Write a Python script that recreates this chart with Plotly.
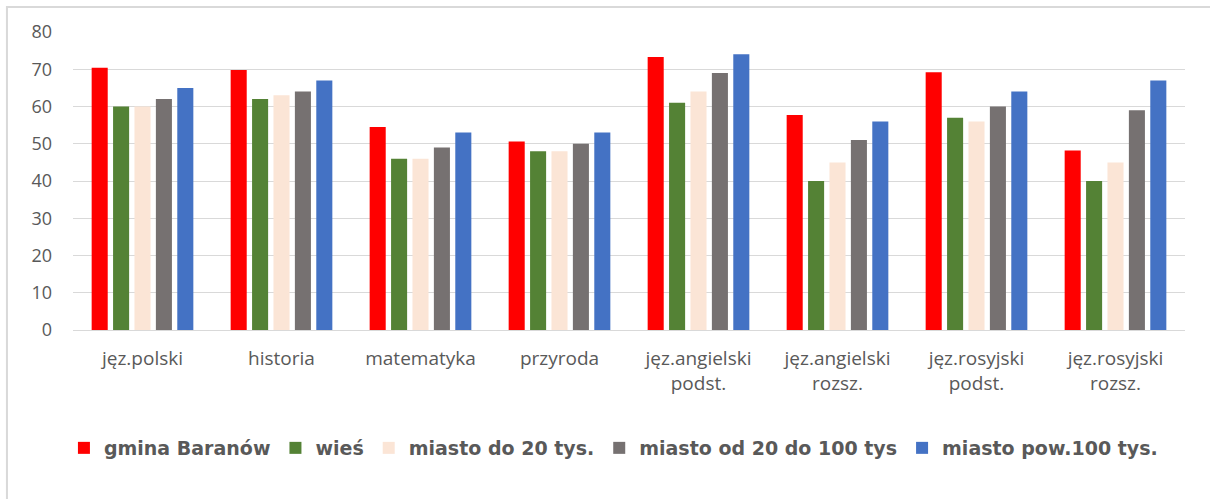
import plotly.graph_objects as go

# data
categories = ['jęz.polski', 'historia', 'matematyka', 'przyroda',
              'jęz.angielski<br>podst.', 'jęz.angielski<br>rozsz.',
              'jęz.rosyjski<br>podst.', 'jęz.rosyjski<br>rozsz.']

gmina_baranow = [70.4, 69.8, 54.5, 50.6, 73.3, 57.7, 69.2, 48.2]
wies = [60, 62, 46, 48, 61, 40, 57, 40]
miasto_do_20 = [60, 63, 46, 48, 64, 45, 56, 45]
miasto_20_100 = [62, 64, 49, 50, 69, 51, 60, 59]
miasto_pow_100 = [65, 67, 53, 53, 74, 56, 64, 67]

series = [
    ('gmina Baranów', gmina_baranow, '#FF0000'),
    ('wieś', wies, '#548235'),
    ('miasto do 20 tys.', miasto_do_20, '#FBE5D6'),
    ('miasto od 20 do 100 tys', miasto_20_100, '#767171'),
    ('miasto pow.100 tys.', miasto_pow_100, '#4472C4'),
]

fig = go.Figure()
for name, vals, col in series:
    fig.add_trace(go.Bar(x=categories, y=vals, name=name,
                         marker=dict(color=col, line=dict(width=0))))

# outer frame (top + left edge visible in the original)
fig.add_shape(type='path', xref='paper', yref='paper',
              path='M -0.0594,-0.7 L -0.0594,1.084 L 1.05,1.084',
              line=dict(color='#d9d9d9', width=2))

fig.update_layout(
    width=1210, height=499,
    margin=dict(l=73, r=25, t=32, b=169, autoexpand=False),
    paper_bgcolor='white', plot_bgcolor='white',
    barmode='group', bargap=0.23, bargroupgap=0.25,
    font=dict(family='Open Sans', color='#595959'),
    showlegend=True,
    legend=dict(orientation='h', x=0.486, xanchor='center', y=-0.396, yanchor='middle',
                font=dict(family='DejaVu Sans', size=19, color='#595959', weight='bold'),
                itemwidth=30, traceorder='normal'),
    xaxis=dict(showgrid=False, showline=False, ticks='', tickfont=dict(size=19),
               ticklabelstandoff=15, automargin=False),
    yaxis=dict(range=[0, 80], dtick=10, showgrid=True, gridcolor='#d9d9d9', gridwidth=1,
               zeroline=True, zerolinecolor='#d9d9d9', zerolinewidth=1,
               ticks='', tickfont=dict(size=18), ticklabelstandoff=20, automargin=False),
)

# page body has an 8px default margin; drop it so the figure sits at 0,0
fig.write_html('out.html', config={'displayModeBar': False},
               post_script="document.body.style.margin='0';")
